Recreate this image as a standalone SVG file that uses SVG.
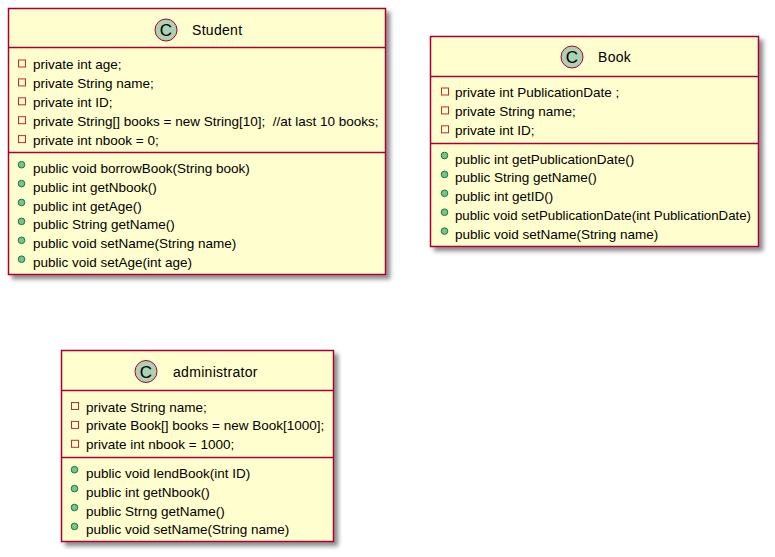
<svg xmlns="http://www.w3.org/2000/svg" width="775" height="557" viewBox="0 0 775 557">
<defs>
<filter id="sh" x="-10%" y="-10%" width="130%" height="130%">
<feGaussianBlur in="SourceAlpha" stdDeviation="2"/>
<feOffset dx="4" dy="4" result="b"/>
<feColorMatrix in="b" type="matrix" values="0 0 0 0 0  0 0 0 0 0  0 0 0 0 0  0 0 0 0.45 0"/>
<feMerge><feMergeNode/><feMergeNode in="SourceGraphic"/></feMerge>
</filter>
</defs>
<style>
.box{fill:#FEFECE;stroke:#A80036;stroke-width:1.5;filter:url(#sh)}
.sep{stroke:#A80036;stroke-width:1.5}
.ci{fill:#ADD1B2;stroke:#A80036;stroke-width:1}
.cl{font-family:"Liberation Sans",Arial,sans-serif;font-size:17px;fill:#000;text-anchor:middle}
.title{font-family:"Liberation Sans",Arial,sans-serif;font-size:14px;letter-spacing:0.3px;fill:#000}
.t{font-family:"Liberation Sans",Arial,sans-serif;font-size:13.5px;fill:#000}
.priv{fill:none;stroke:#C82930;stroke-width:1}
.pub{fill:#84BE84;stroke:#038048;stroke-width:1}
</style>
<rect width="775" height="557" fill="#FFFFFF"/>

<g id="Student">
<rect class="box" x="8.5" y="8.5" width="377" height="266"/>
<circle class="ci" cx="166" cy="30" r="11"/>
<text class="cl" x="166" y="36">C</text>
<text class="title" x="192" y="35">Student</text>
<line class="sep" x1="8.5" y1="47.5" x2="385.5" y2="47.5"/>
<rect class="priv" x="18.5" y="60" width="7" height="7"/>
<text class="t" x="33" y="69">private int age;</text>
<rect class="priv" x="18.5" y="78.9" width="7" height="7"/>
<text class="t" x="33" y="87.9">private String name;</text>
<rect class="priv" x="18.5" y="97.8" width="7" height="7"/>
<text class="t" x="33" y="106.8">private int ID;</text>
<rect class="priv" x="18.5" y="116.7" width="7" height="7"/>
<text class="t" x="33" y="125.7" xml:space="preserve">private String[] books = new String[10];  //at last 10 books;</text>
<rect class="priv" x="18.5" y="135.6" width="7" height="7"/>
<text class="t" x="33" y="144.6">private int nbook = 0;</text>
<line class="sep" x1="8.5" y1="152.5" x2="385.5" y2="152.5"/>
<circle class="pub" cx="21.5" cy="164.7" r="3.3"/>
<text class="t" x="33" y="172.7">public void borrowBook(String book)</text>
<circle class="pub" cx="21.5" cy="183.6" r="3.3"/>
<text class="t" x="33" y="191.6">public int getNbook()</text>
<circle class="pub" cx="21.5" cy="202.5" r="3.3"/>
<text class="t" x="33" y="210.5">public int getAge()</text>
<circle class="pub" cx="21.5" cy="221.4" r="3.3"/>
<text class="t" x="33" y="229.4">public String getName()</text>
<circle class="pub" cx="21.5" cy="240.3" r="3.3"/>
<text class="t" x="33" y="248.3">public void setName(String name)</text>
<circle class="pub" cx="21.5" cy="259.2" r="3.3"/>
<text class="t" x="33" y="267.2">public void setAge(int age)</text>
</g>

<g id="Book">
<rect class="box" x="430.5" y="36.5" width="328" height="210"/>
<circle class="ci" cx="572" cy="57" r="11"/>
<text class="cl" x="572" y="63">C</text>
<text class="title" x="598" y="62">Book</text>
<line class="sep" x1="430.5" y1="76.5" x2="758.5" y2="76.5"/>
<rect class="priv" x="441.5" y="88" width="7" height="7"/>
<text class="t" x="455" y="97">private int PublicationDate ;</text>
<rect class="priv" x="441.5" y="106.9" width="7" height="7"/>
<text class="t" x="455" y="115.9">private String name;</text>
<rect class="priv" x="441.5" y="125.8" width="7" height="7"/>
<text class="t" x="455" y="134.8">private int ID;</text>
<line class="sep" x1="430.5" y1="143.5" x2="758.5" y2="143.5"/>
<circle class="pub" cx="444.5" cy="155.5" r="3.3"/>
<text class="t" x="455" y="163.5">public int getPublicationDate()</text>
<circle class="pub" cx="444.5" cy="174.4" r="3.3"/>
<text class="t" x="455" y="182.4">public String getName()</text>
<circle class="pub" cx="444.5" cy="193.3" r="3.3"/>
<text class="t" x="455" y="201.3">public int getID()</text>
<circle class="pub" cx="444.5" cy="212.2" r="3.3"/>
<text class="t" x="455" y="220.2" textLength="296" lengthAdjust="spacingAndGlyphs">public void setPublicationDate(int PublicationDate)</text>
<circle class="pub" cx="444.5" cy="231.1" r="3.3"/>
<text class="t" x="455" y="239.1">public void setName(String name)</text>
</g>

<g id="administrator">
<rect class="box" x="61.5" y="350.5" width="272" height="191"/>
<circle class="ci" cx="146" cy="371.5" r="11"/>
<text class="cl" x="146" y="377.5">C</text>
<text class="title" x="173" y="376.5">administrator</text>
<line class="sep" x1="61.5" y1="390.5" x2="333.5" y2="390.5"/>
<rect class="priv" x="71.5" y="402.5" width="7" height="7"/>
<text class="t" x="86" y="411.5">private String name;</text>
<rect class="priv" x="71.5" y="421.4" width="7" height="7"/>
<text class="t" x="86" y="430.4">private Book[] books = new Book[1000];</text>
<rect class="priv" x="71.5" y="440.3" width="7" height="7"/>
<text class="t" x="86" y="449.3">private int nbook = 1000;</text>
<line class="sep" x1="61.5" y1="457.5" x2="333.5" y2="457.5"/>
<circle class="pub" cx="74.5" cy="469.7" r="3.3"/>
<text class="t" x="86" y="477.7">public void lendBook(int ID)</text>
<circle class="pub" cx="74.5" cy="488.6" r="3.3"/>
<text class="t" x="86" y="496.6">public int getNbook()</text>
<circle class="pub" cx="74.5" cy="507.5" r="3.3"/>
<text class="t" x="86" y="515.5">public Strng getName()</text>
<circle class="pub" cx="74.5" cy="526.4" r="3.3"/>
<text class="t" x="86" y="534.4">public void setName(String name)</text>
</g>

<g id="connectors"></g>
</svg>
